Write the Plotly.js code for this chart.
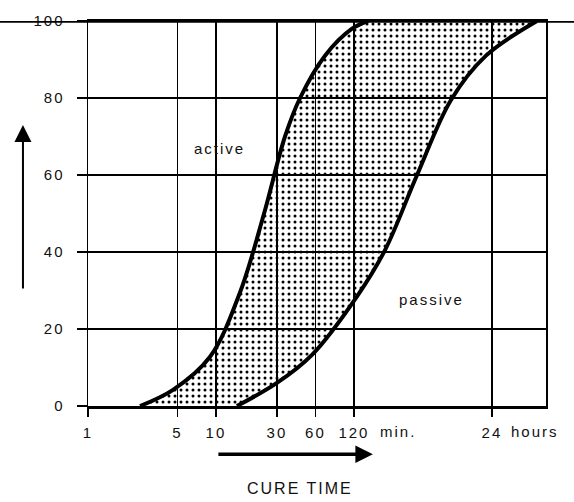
<!DOCTYPE html>
<html>
<head>
<meta charset="utf-8">
<script src="https://cdn.plot.ly/plotly-3.0.1.min.js"></script>
<style>
  html, body { margin: 0; padding: 0; background: #fff; }
  #chart { width: 574px; height: 502px; }
  .main-svg text { letter-spacing: 2px; }
</style>
</head>
<body>
<div id="chart"></div>
<script>
// Cure time in minutes (log axis) and percentage of cure
const activeMin = [2.55, 4.62, 9, 15.4, 23.8, 34.7, 45.5, 71.3, 116, 155];
const activePct = [0, 4.2, 12.8, 29.4, 50, 70, 80, 91, 98, 100];

const passiveMin = [14.6, 30, 56.4, 127, 210, 374, 689, 1294, 3241];
const passivePct = [0, 6, 13.3, 28.5, 40.5, 60, 79.5, 91, 100];

const xTickVals = [1, 5, 10, 30, 60, 120, 1440];
const xTickText = ['1', '5', '10', '30', '60', '120', '24'];
const xUnitText = ['min.', 'hours'];   // units written after "120" and "24"
const yTickVals = [0, 20, 40, 60, 80, 100];

const seriesLabels = ['active', 'passive'];
const xAxisLabel = 'CURE TIME';

const FONT = {family: '"Liberation Sans", Arial, sans-serif', size: 15, color: '#111'};

const traces = [
  {
    x: activeMin, y: activePct, type: 'scatter', mode: 'lines', name: seriesLabels[0],
    line: {color: '#000', width: 4, shape: 'spline', smoothing: 1},
    hoverinfo: 'skip'
  },
  {
    x: passiveMin, y: passivePct, type: 'scatter', mode: 'lines', name: seriesLabels[1],
    line: {color: '#000', width: 4, shape: 'spline', smoothing: 1},
    fill: 'tonexty',
    fillcolor: 'rgba(0,0,0,0)',
    fillpattern: {shape: '.', size: 6, solidity: 0.2, fgcolor: '#000', fillmode: 'replace'},
    hoverinfo: 'skip'
  }
];

const layout = {
  width: 574, height: 502,
  margin: {l: 88, r: 28, t: 21, b: 96},
  paper_bgcolor: '#fff', plot_bgcolor: '#fff',
  showlegend: false,
  font: FONT,
  xaxis: {
    type: 'log', range: [0, 3.581],
    tickmode: 'array', tickvals: xTickVals, ticktext: xTickText, tickangle: 0,
    ticks: 'outside', ticklen: 8, tickwidth: 1.5, tickcolor: '#000',
    ticklabelstandoff: 3,
    showgrid: true, gridcolor: '#000', gridwidth: 1.4,
    showline: true, linecolor: '#000', linewidth: 2.5, mirror: true,
    zeroline: false, tickfont: FONT
  },
  yaxis: {
    range: [0, 100],
    tickmode: 'array', tickvals: yTickVals, tickangle: 0,
    ticks: 'outside', ticklen: 10, tickwidth: 1.5, tickcolor: '#000',
    ticklabelstandoff: 9,
    showgrid: true, gridcolor: '#000', gridwidth: 1.4,
    showline: true, linecolor: '#000', linewidth: 1.5, mirror: true,
    zeroline: false, tickfont: FONT
  },
  shapes: [
    {type: 'line', xref: 'paper', yref: 'y', x0: -0.193, x1: 1.062, y0: 100, y1: 100,
     line: {color: '#000', width: 3.5}}
  ],
  annotations: [
    {text: xUnitText[0], xref: 'paper', yref: 'paper', x: 0.643, y: -0.0675,
     xanchor: 'left', yanchor: 'middle', showarrow: false, font: FONT},
    {text: xUnitText[1], xref: 'paper', yref: 'paper', x: 0.93, y: -0.0675,
     xanchor: 'left', yanchor: 'middle', showarrow: false, font: FONT},
    {text: seriesLabels[0], xref: 'paper', yref: 'paper', x: 0.288, y: 0.669,
     xanchor: 'center', yanchor: 'middle', showarrow: false, font: FONT},
    {text: seriesLabels[1], xref: 'paper', yref: 'paper', x: 0.751, y: 0.276,
     xanchor: 'center', yanchor: 'middle', showarrow: false, font: FONT},
    {text: xAxisLabel, xref: 'paper', yref: 'paper', x: 0.463, y: -0.213,
     xanchor: 'center', yanchor: 'middle', showarrow: false,
     font: {family: FONT.family, size: 16, color: '#111'}},
    // upward arrow beside the y axis
    {text: '', xref: 'paper', yref: 'paper', x: -0.142, y: 0.73,
     showarrow: true, ax: 0, ay: 165, arrowhead: 2, arrowsize: 1.7, arrowwidth: 2,
     arrowcolor: '#000', standoff: 0},
    // rightward arrow under the x axis
    {text: '', xref: 'paper', yref: 'paper', x: 0.622, y: -0.125,
     showarrow: true, ax: -156, ay: 0, arrowhead: 2, arrowsize: 1, arrowwidth: 3.5,
     arrowcolor: '#000', standoff: 0}
  ]
};

Plotly.newPlot('chart', traces, layout, {staticPlot: true, displayModeBar: false});
</script>
</body>
</html>
